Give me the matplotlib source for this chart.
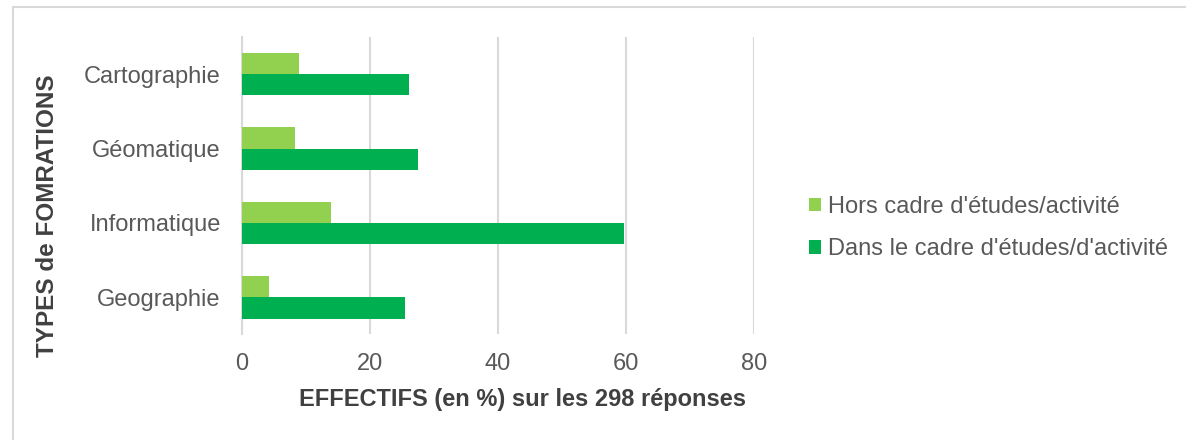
import matplotlib.pyplot as plt
import matplotlib.patches as mpatches
import numpy as np

plt.rcParams['font.family'] = ['Liberation Sans', 'DejaVu Sans']

# données
formations = ['Geographie', 'Informatique', 'Géomatique', 'Cartographie']
hors_cadre = [4.3, 14.0, 8.3, 9.0]
dans_cadre = [25.5, 59.7, 27.5, 26.1]
ticks_x = [0, 20, 40, 60, 80]

clair = '#92D050'
fonce = '#00B050'
gris_txt = '#595959'
gris_titre = '#404040'
gris_grille = '#D9D9D9'

fig = plt.figure(figsize=(11.86, 4.4), dpi=100)
ax = fig.add_axes([0.2038, 0.2398, 0.4319, 0.676])

# cadre du graphique (bords droit et bas hors de l'image)
fig.patches.append(mpatches.Rectangle((12.5 / 1186, -0.1), 1.2, 1.1 - 6.7 / 440, transform=fig.transFigure,
                                      fill=False, edgecolor=gris_grille, linewidth=1.5))

y = np.arange(len(formations))
h = 0.285
ax.barh(y - h / 2, dans_cadre, height=h, color=fonce, label="Dans le cadre d'études/d'activité", zorder=3)
ax.barh(y + h / 2, hors_cadre, height=h, color=clair, label="Hors cadre d'études/activité", zorder=3)

ax.set_xlim(0, 80)
ax.set_ylim(-0.5, 3.5)
ax.set_xticks(ticks_x)
ax.set_yticks(y)
ax.set_yticklabels(formations)
ax.tick_params(axis='both', length=0, labelsize=17, labelcolor=gris_txt)
ax.tick_params(axis='y', pad=15)
ax.tick_params(axis='x', pad=13)
ax.grid(axis='x', color=gris_grille, linewidth=1.5, zorder=0)
for s in ['top', 'right', 'bottom']:
    ax.spines[s].set_visible(False)
ax.spines['left'].set_color(gris_grille)
ax.spines['left'].set_linewidth(1.5)

ax.set_xlabel('EFFECTIFS (en %) sur les 298 réponses', fontsize=17, fontweight='bold', color=gris_titre)
ax.xaxis.set_label_coords(0.549, -0.18)
ax.set_ylabel('TYPES de FOMRATIONS', fontsize=17.5, fontweight='bold', color=gris_titre)
ax.yaxis.set_label_coords(-0.356, 0.398)

handles, labels = ax.get_legend_handles_labels()
leg = fig.legend(handles[::-1], labels[::-1], loc='center left', bbox_to_anchor=(0.6645, 0.482),
                 frameon=False, fontsize=17, handlelength=0.5, handleheight=0.5, handletextpad=0.3,
                 labelspacing=0.87)
for t in leg.get_texts():
    t.set_color(gris_txt)

fig.savefig('out.png', dpi=100)
